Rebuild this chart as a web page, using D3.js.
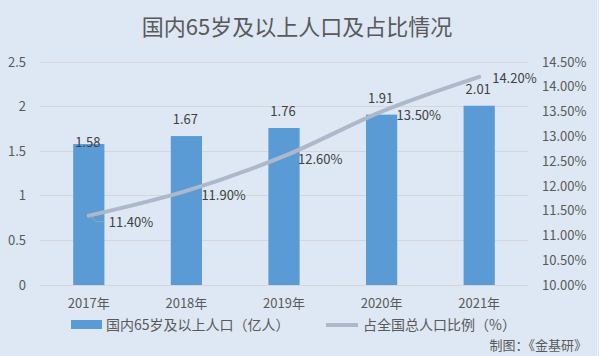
<!DOCTYPE html>
<html><head><meta charset="utf-8">
<script src="https://cdn.jsdelivr.net/npm/d3@7"></script>
<style>body{margin:0;background:#dee8f4;}svg{display:block;}</style>
</head><body>
<svg id="c" width="599" height="356"></svg>
<script>
const categories = ["2017年","2018年","2019年","2020年","2021年"];
const population = [1.58,1.67,1.76,1.91,2.01];
const ratio = [11.40,11.90,12.60,13.50,14.20];
const leftTicks = [0,0.5,1,1.5,2,2.5];
const rightTicks = [10,10.5,11,11.5,12,12.5,13,13.5,14,14.5];

const svg = d3.select("#c");
const font = "'Noto Sans CJK SC', 'Microsoft YaHei', sans-serif";
const txt = "#595959";
svg.append("rect").attr("width",599).attr("height",356).attr("fill","#dee8f4");
svg.append("line").attr("x1",597.5).attr("x2",597.5).attr("y1",0).attr("y2",356).attr("stroke","#f2f2f2");

const L=40,R=528,T=62,B=285;
const x = d3.scaleBand().domain(categories).range([L,R]).paddingInner(0.68).paddingOuter(0.34);
const yL = d3.scaleLinear().domain([0,2.5]).range([B,T]);
const yR = d3.scaleLinear().domain([10,14.5]).range([B,T]);
const cx = d => x(d)+x.bandwidth()/2;

svg.append("text").attr("x",297).attr("y",35).attr("text-anchor","middle")
  .attr("font-family",font).attr("font-size",22).attr("fill",txt).text("国内65岁及以上人口及占比情况");

// grid
svg.append("g").selectAll("line").data(leftTicks).join("line")
  .attr("x1",L).attr("x2",R).attr("y1",d=>yL(d)).attr("y2",d=>yL(d))
  .attr("stroke","#d6d6d6").attr("stroke-width",1).attr("shape-rendering","crispEdges");

// left axis
const ga = svg.append("g").attr("transform",`translate(${L-14},0)`)
  .call(d3.axisLeft(yL).tickValues(leftTicks).tickSize(0).tickPadding(0).tickFormat(d=>String(d)));
ga.select(".domain").remove();
ga.selectAll("text").attr("font-family",font).attr("font-size",13).attr("fill",txt);

// right axis
const gr = svg.append("g").attr("transform",`translate(${R+14},0)`)
  .call(d3.axisRight(yR).tickValues(rightTicks).tickSize(0).tickPadding(0).tickFormat(d=>d.toFixed(2)+"%"));
gr.select(".domain").remove();
gr.selectAll("text").attr("font-family",font).attr("font-size",13).attr("fill",txt);

// x axis
const gx = svg.append("g").attr("transform",`translate(0,${B+11})`)
  .call(d3.axisBottom(x).tickSize(0).tickPadding(0));
gx.select(".domain").remove();
gx.selectAll("text").attr("font-family",font).attr("font-size",13).attr("fill",txt).attr("dy","0.9em");

// bars
svg.append("g").selectAll("rect").data(population).join("rect")
  .attr("x",(d,i)=>x(categories[i])).attr("width",x.bandwidth())
  .attr("y",d=>yL(d)).attr("height",d=>B-yL(d)).attr("fill","#5b9bd5");
const barLblOff = [3,-12,-12,-12,-12];
svg.append("g").selectAll("text").data(population).join("text")
  .attr("x",(d,i)=>cx(categories[i])-1).attr("y",(d,i)=>yL(d)+barLblOff[i]).attr("text-anchor","middle")
  .attr("font-family",font).attr("font-size",13).attr("fill","#404040").text(d=>d.toFixed(2));

// line
const line = d3.line().x((d,i)=>cx(categories[i])).y(d=>yR(d)).curve(d3.curveCatmullRom.alpha(0.5));
svg.append("path").datum(ratio).attr("d",line).attr("fill","none")
  .attr("stroke","#adb9ca").attr("stroke-width",4).attr("stroke-linecap","round");
// leader for first label
svg.append("path").attr("d",`M${cx(categories[0])},${yR(ratio[0])} l8,6 h7`)
  .attr("fill","none").attr("stroke","#a6a6a6").attr("stroke-width",0.8);
const off = [[20,11],[15,9],[14,8],[15,8],[13,6]];
svg.append("g").selectAll("text").data(ratio).join("text")
  .attr("x",(d,i)=>cx(categories[i])+off[i][0]).attr("y",(d,i)=>yR(d)+off[i][1])
  .attr("font-family",font).attr("font-size",13).attr("fill","#404040").text(d=>d.toFixed(2)+"%");

// legend
svg.append("rect").attr("x",71).attr("y",320).attr("width",31).attr("height",9).attr("fill","#5b9bd5");
svg.append("text").attr("x",106).attr("y",330).attr("font-family",font).attr("font-size",14).attr("fill",txt).text("国内65岁及以上人口（亿人）");
svg.append("line").attr("x1",326).attr("x2",358).attr("y1",325).attr("y2",325).attr("stroke","#adb9ca").attr("stroke-width",4);
svg.append("text").attr("x",363).attr("y",330).attr("font-family",font).attr("font-size",14).attr("fill",txt).text("占全国总人口比例（%）");

svg.append("text").attr("x",587).attr("y",350).attr("text-anchor","end").attr("font-family",font).attr("font-size",13).attr("fill",txt).text("制图：《金基研》");
</script>
</body></html>
